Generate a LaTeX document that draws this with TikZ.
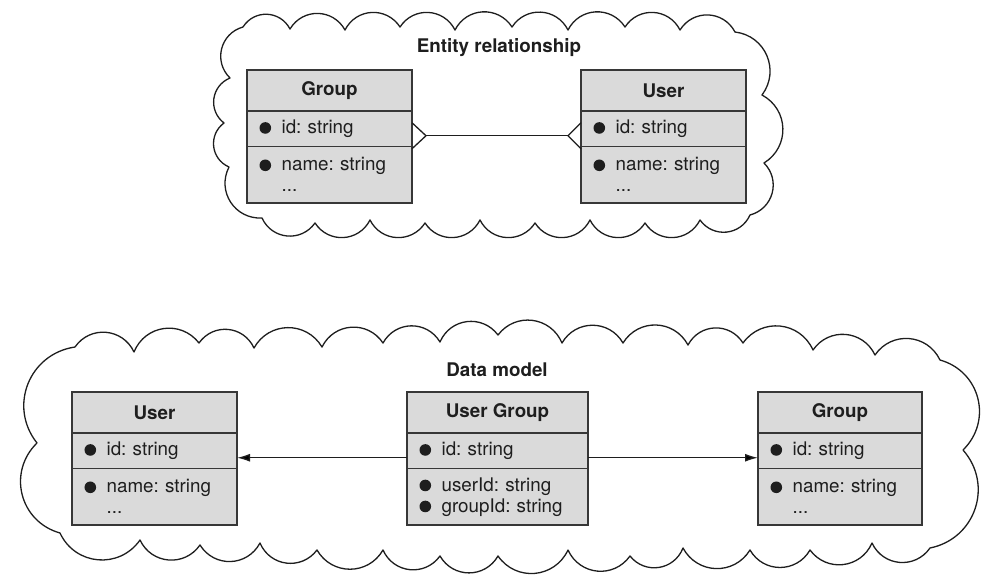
\documentclass[tikz,border=0pt]{standalone}
\usepackage{fontspec}
\setmainfont{TeX Gyre Heros}
\usetikzlibrary{arrows.meta,positioning}
\definecolor{ink}{RGB}{30,30,30}
\definecolor{boxline}{RGB}{55,55,55}
\definecolor{boxfill}{RGB}{218,218,218}
\newcommand{\bodyfont}{\fontsize{18.8}{21}\selectfont\frenchspacing}
\newcommand{\attr}[1]{\tikz[baseline=-5.6pt]\fill[ink] (0,0) circle (5.8pt);\hspace{10.5pt}#1}
\newcommand{\attrdots}{\hspace*{22.1pt}...}
\tikzset{
  ent/.style={draw=boxline,fill=boxfill,line width=1.3pt,outer sep=0pt,inner ysep=0pt,text=ink,font=\bodyfont},
  head/.style={ent,minimum width=#1,minimum height=41pt,font=\bodyfont\bfseries},
  head/.default=165pt,
  slot/.style={ent,text width=#1,inner xsep=12.5pt,align=left},
  slot/.default=140pt,
  idslot/.style={slot=#1,minimum height=35.5pt},
  idslot/.default=140pt,
  restslot/.style={slot=#1,minimum height=56.5pt},
  restslot/.default=140pt,
  title/.style={font=\bodyfont\bfseries,text=ink},
  cloudline/.style={draw=ink,line width=1.3pt,fill=white,line join=round},
  puff/.style={bend left=60,looseness=1.15},
  link/.style={draw=ink,line width=1.3pt},
  arr/.style={link,-{Latex[length=13pt,width=8pt]}}
}
\begin{document}
\begin{tikzpicture}[x=1pt,y=1pt]
\useasboundingbox (0,0) rectangle (986,-575);
% clouds
\draw[cloudline] (243,-27) foreach \x/\y in {290/29,345/30,400/27,455/30,512/27,568/30,625/27,680/30,735/32,
  762/95,764/163,750/215,700/220,645/223,590/220,535/223,480/220,425/223,370/220,315/223,262/218,
  229/167,224/123,230/78,243/27} { to[puff] (\x,-\y) };
\draw[cloudline] (75,-347) foreach \x/\y in {134/352,199/343,254/348,322/347,383/343,440/342,498/335,562/343,
  623/343,688/345,743/343,813/350,875/355,940/360,963/450,930/548,872/543,810/550,750/550,683/548,630/556,
  568/550,498/556,440/556,383/550,317/550,260/543,200/545,140/540,60/533,37/443,75/347} { to[puff] (\x,-\y) };
% entity relationship
\node[title] (ertitle) at (499,-48) {Entity relationship};
\node[head] (grp) at (329.5,-90.5) {Group};
\node[idslot,below=0pt of grp] (grpid) {\attr{id: string}};
\node[restslot,below=0pt of grpid] (grprest) {\attr{name: string}\\\attrdots};
\node[head] (usr) at (663.5,-90.5) {User};
\node[idslot,below=0pt of usr] (usrid) {\attr{id: string}};
\node[restslot,below=0pt of usrid] (usrrest) {\attr{name: string}\\\attrdots};
\coordinate (grptoe) at ([xshift=14pt,yshift=-7pt]grpid.east);
\coordinate (usrtoe) at ([xshift=-13pt,yshift=-7pt]usrid.west);
\draw[link] (grptoe) -- (usrtoe);
\draw[link] ([yshift=6pt]grpid.east) -- (grptoe) -- ([yshift=-20pt]grpid.east);
\draw[link] ([yshift=6pt]usrid.west) -- (usrtoe) -- ([yshift=-20pt]usrid.west);
% data model
\node[title] (dmtitle) at (497,-370) {Data model};
\node[head] (user) at (154.5,-412.5) {User};
\node[idslot,below=0pt of user] (userid) {\attr{id: string}};
\node[restslot,below=0pt of userid] (userrest) {\attr{name: string}\\\attrdots};
\node[head=181pt] (ug) at (497.5,-412.5) {User Group};
\node[idslot=156pt,below=0pt of ug] (ugid) {\attr{id: string}};
\node[restslot=156pt,below=0pt of ugid] (ugrest) {\attr{userId: string}\\\attr{groupId: string}};
\node[head=164pt] (group) at (840,-412.5) {Group};
\node[idslot=139pt,below=0pt of group] (groupid) {\attr{id: string}};
\node[restslot=139pt,below=0pt of groupid] (grouprest) {\attr{name: string}\\\attrdots};
\draw[arr] ([yshift=-7pt]ugid.west) -- ([yshift=-7pt]userid.east);
\draw[arr] ([yshift=-7pt]ugid.east) -- ([yshift=-7pt]groupid.west);
\end{tikzpicture}
\end{document}
